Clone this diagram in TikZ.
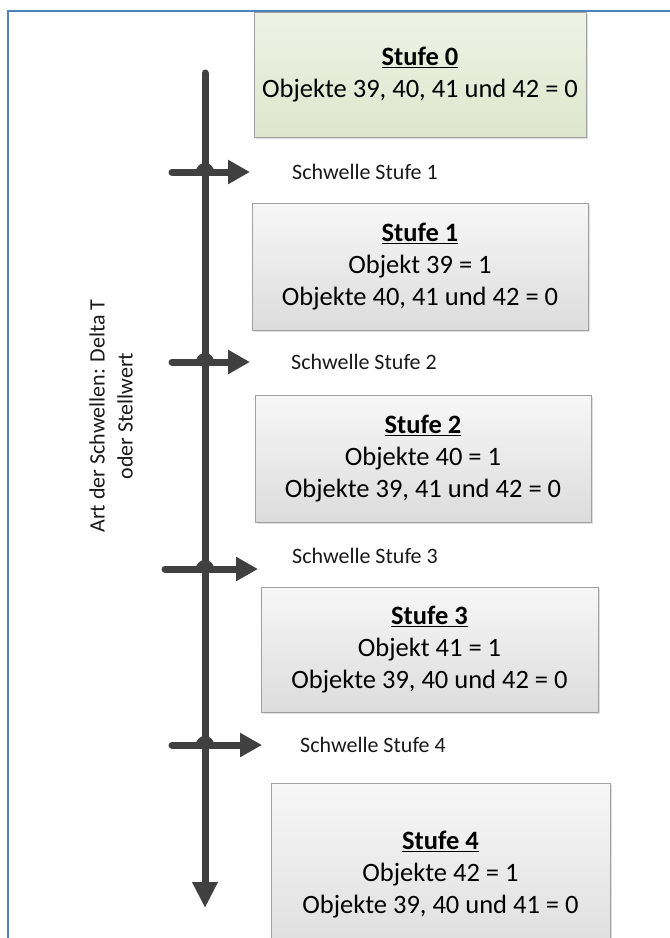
\documentclass[tikz,border=0pt]{standalone}
\usepackage{fontspec}
\setmainfont{Carlito}
\usetikzlibrary{arrows.meta,shadows}
\definecolor{axiscol}{HTML}{404040}
\definecolor{boxborder}{HTML}{A0A0A0}
\definecolor{frameblue}{HTML}{4F81BD}
\definecolor{greentop}{HTML}{EFF3E6}
\definecolor{greenbot}{HTML}{DEE6CC}
\definecolor{graytop}{HTML}{F7F7F7}
\definecolor{graybot}{HTML}{DCDCDC}
\tikzset{
  stufebox/.style={draw=boxborder, line width=0.8pt, top color=graytop, bottom color=graybot,
    align=center, inner sep=0pt, font=\fontsize{26.5}{32}\selectfont,
    drop shadow={opacity=0.25, shadow xshift=2pt, shadow yshift=-2pt}},
  greenbox/.style={stufebox, top color=greentop, bottom color=greenbot},
  axisline/.style={draw=axiscol, line width=7pt},
  harrow/.style={axisline, -{Triangle[width=23pt,length=22pt]}},
  bump/.style={draw=axiscol, line width=6pt},
  schwelle/.style={anchor=west, inner sep=0pt, font=\fontsize{22}{26}\selectfont, text=black!90},
  sidelabel/.style={rotate=90, align=center, inner sep=0pt, font=\fontsize{22}{28}\selectfont, text=black!90},
  bframe/.style={draw=frameblue, line width=1.6pt}
}
\begin{document}
\begin{tikzpicture}[x=1pt,y=-1pt]
\useasboundingbox (0,0) rectangle (670,938);
% frame
\coordinate (fbl) at (8,960);
\coordinate (ftl) at (8,11);
\coordinate (ftr) at (680,11);
\draw[bframe] (fbl) -- (ftl) -- (ftr);

% boxes
\node[greenbox, minimum width=332pt, minimum height=125pt] (s0) at (420,74.5)
  {\underline{\textbf{Stufe 0}}\\Objekte 39, 40, 41 und 42 = 0};
\node[stufebox, minimum width=336pt, minimum height=127pt] (s1) at (420,266.5)
  {\underline{\textbf{Stufe 1}}\\Objekt 39 = 1\\Objekte 40, 41 und 42 = 0};
\node[stufebox, minimum width=336pt, minimum height=127pt] (s2) at (423,458.5)
  {\underline{\textbf{Stufe 2}}\\Objekte 40 = 1\\Objekte 39, 41 und 42 = 0};
\node[stufebox, minimum width=337pt, minimum height=125pt] (s3) at (429.5,649.5)
  {\underline{\textbf{Stufe 3}}\\Objekt 41 = 1\\Objekte 39, 40 und 42 = 0};
\node[stufebox, minimum width=339pt, minimum height=184pt] (s4) at (440.5,875)
  {\underline{\textbf{Stufe 4}}\\Objekte 42 = 1\\Objekte 39, 40 und 41 = 0};

% axis
\coordinate (axtop) at (205,73);
\coordinate (axbot) at (205,908);
\draw[axisline, line cap=round, -{Triangle[width=24pt,length=26pt]}] (axtop) -- (axbot);

% threshold arrows
\coordinate (h1s) at (172,172); \coordinate (h1e) at (250,172); \coordinate (c1) at (205,172);
\coordinate (h2s) at (172,362); \coordinate (h2e) at (250,362); \coordinate (c2) at (205,362);
\coordinate (h3s) at (165,569); \coordinate (h3e) at (258,569); \coordinate (c3) at (205,569);
\coordinate (h4s) at (172,745); \coordinate (h4e) at (262,745); \coordinate (c4) at (205,745);
\foreach \i in {1,2,3,4}{
  \draw[harrow, line cap=round] (h\i s) -- (h\i e);
  \draw[bump] ([xshift=-6pt]c\i) arc[start angle=180, end angle=360, radius=6];
}

% labels
\node[schwelle] (l1) at (292,172) {Schwelle Stufe 1};
\node[schwelle] (l2) at (291,362) {Schwelle Stufe 2};
\node[schwelle] (l3) at (292,556) {Schwelle Stufe 3};
\node[schwelle] (l4) at (300,745) {Schwelle Stufe 4};

\node[sidelabel] (side) at (111,416) {Art der Schwellen: Delta T\\oder Stellwert};
\end{tikzpicture}
\end{document}
